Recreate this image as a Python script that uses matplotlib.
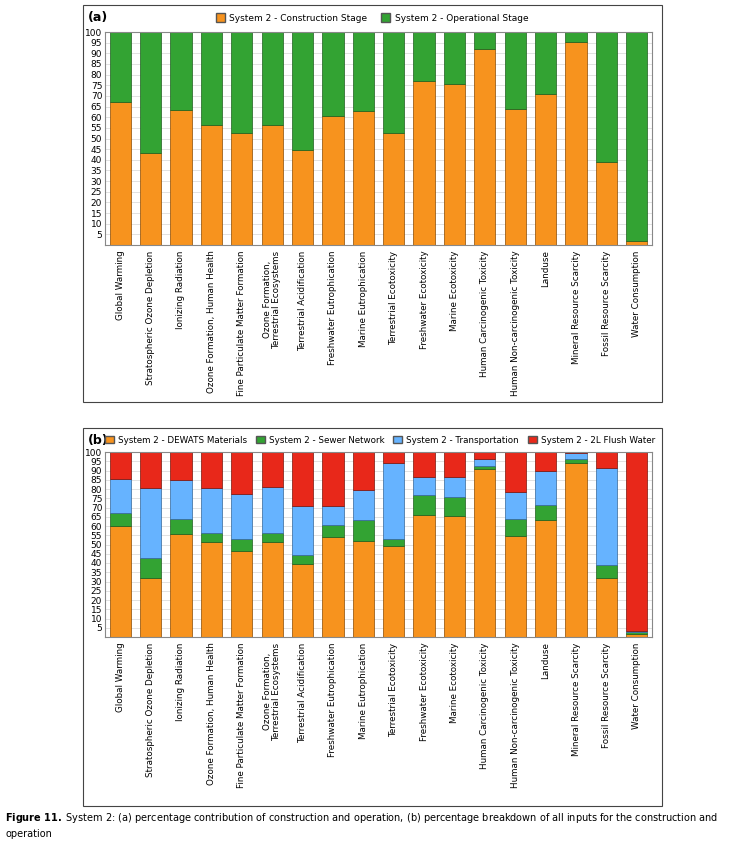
import matplotlib
matplotlib.use("Agg")
import matplotlib.pyplot as plt
from matplotlib.patches import Rectangle, Patch
import numpy as np

categories = ["Global Warming", "Stratospheric Ozone Depletion", "Ionizing Radiation",
              "Ozone Formation, Human Health", "Fine Particulate Matter Formation",
              "Ozone Formation,\nTerrestrial Ecosystems", "Terrestrial Acidification",
              "Freshwater Eutrophication", "Marine Eutrophication", "Terrestrial Ecotoxicity",
              "Freshwater Ecotoxicity", "Marine Ecotoxicity", "Human Carcinogenic Toxicity",
              "Human Non-carcinogenic Toxicity", "Landuse", "Mineral Resource Scarcity",
              "Fossil Resource Scarcity", "Water Consumption"]
construction = [67, 43, 63.5, 56.5, 52.5, 56.5, 44.5, 60.5, 63, 52.5, 77, 75.5, 92, 64, 71, 95.5, 39, 2]
operational = [100 - c for c in construction]

cum_orange = [60, 32, 55.5, 51.3, 46.3, 51.3, 39.3, 54, 52, 49.2, 66, 65.2, 90.7, 54.8, 63.3, 93.8, 32, 1.7]
cum_green = [67, 42.7, 63.7, 56.3, 53, 56.3, 44.5, 60.5, 63.3, 53, 77, 75.7, 92.3, 63.9, 71.2, 96, 39, 2.5]
cum_blue = [85.3, 80.3, 84.8, 80.7, 77.2, 81.2, 70.9, 70.6, 79.3, 93.8, 86.3, 86.6, 96, 78.3, 90, 99.2, 91.3, 3]
dewats = cum_orange
sewer = [g - o for g, o in zip(cum_green, cum_orange)]
transport = [b - g for b, g in zip(cum_blue, cum_green)]
flush = [100 - b for b in cum_blue]

ORANGE, GREEN, BLUE, RED = "#f7931e", "#33a333", "#66b3ff", "#e8281a"
W, H = 742, 844
fig = plt.figure(figsize=(W/100, H/100), dpi=100)

def fax(x0, y0, x1, y1):
    return fig.add_axes([x0/W, 1-y1/H, (x1-x0)/W, (y1-y0)/H])

for (y0, y1) in [(5, 402), (428, 806)]:
    fig.patches.append(Rectangle((83/W, 1-y1/H), (662-83)/W, (y1-y0)/H, transform=fig.transFigure,
                                 fill=False, ec="#444444", lw=0.8))

def style(ax):
    ax.set_xlim(-0.5, len(categories)-0.5)
    ax.set_ylim(0, 100)
    ax.set_yticks(range(5, 101, 5))
    ax.tick_params(axis='y', labelsize=6.5, length=0, pad=2)
    ax.tick_params(axis='x', labelsize=6.3, length=0, pad=4)
    ax.set_xticks(range(len(categories)))
    ax.set_xticklabels(categories, rotation=90, linespacing=1.0)
    ax.grid(axis='y', color="#dddddd", lw=0.6)
    ax.set_axisbelow(True)
    for s in ax.spines.values():
        s.set_color("#888888")

x = np.arange(len(categories))
bw = 0.7
ax1 = fax(105, 32, 652, 245)
ax1.bar(x, construction, bw, color=ORANGE, ec="#8a4a00", lw=0.5)
ax1.bar(x, operational, bw, bottom=construction, color=GREEN, ec="#1d5e1d", lw=0.5)
style(ax1)
fig.text(88/W, 1-18/H, "(a)", fontsize=9, fontweight="bold", va="center")
fig.legend(handles=[Patch(fc=ORANGE, ec="#555"), Patch(fc=GREEN, ec="#555")],
           labels=["System 2 - Construction Stage", "System 2 - Operational Stage"],
           loc="center", bbox_to_anchor=(372/W, 1-18/H), ncol=2, frameon=False, fontsize=6.5,
           handlelength=1, handleheight=1, columnspacing=1.5, handletextpad=0.5)

ax2 = fax(105, 452, 652, 637)
b = np.zeros(len(categories))
for vals, col, ec in [(dewats, ORANGE, "#8a4a00"), (sewer, GREEN, "#1d5e1d"),
                      (transport, BLUE, "#336699"), (flush, RED, "#7a1208")]:
    ax2.bar(x, vals, bw, bottom=b, color=col, ec=ec, lw=0.5)
    b += np.array(vals)
style(ax2)
fig.text(88/W, 1-440/H, "(b)", fontsize=9, fontweight="bold", va="center")
fig.legend(handles=[Patch(fc=c, ec="#555") for c in (ORANGE, GREEN, BLUE, RED)],
           labels=["System 2 - DEWATS Materials", "System 2 - Sewer Network",
                   "System 2 - Transportation", "System 2 - 2L Flush Water"],
           loc="center", bbox_to_anchor=(380/W, 1-440/H), ncol=4, frameon=False, fontsize=6.3,
           handlelength=1, handleheight=1, columnspacing=1.0, handletextpad=0.5)

fig.text(5/W, 1-818/H, r"$\bf{Figure\ 11.}$ System 2: (a) percentage contribution of construction and operation, (b) percentage breakdown of all inputs for the construction and",
         fontsize=7, va="center")
fig.text(5/W, 1-834/H, "operation", fontsize=7, va="center")
fig.savefig("out.png", dpi=100)
